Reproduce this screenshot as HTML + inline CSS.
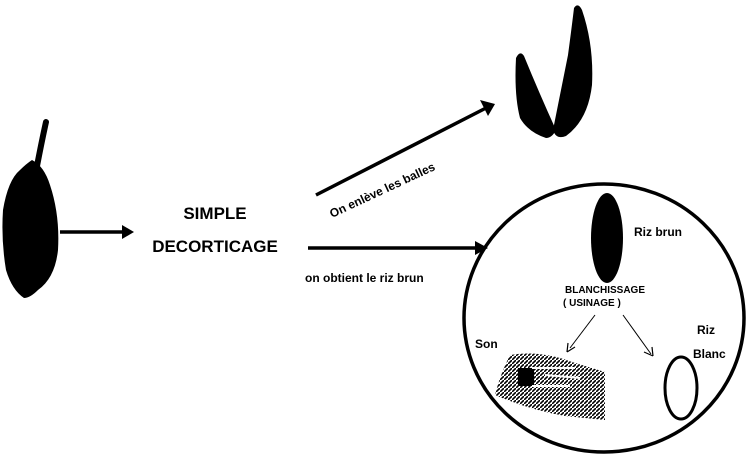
<!DOCTYPE html>
<html><head><meta charset="utf-8"><style>
html,body{margin:0;padding:0;background:#fff;width:749px;height:459px;overflow:hidden}
svg text{font-family:"Liberation Sans",sans-serif;font-weight:bold;fill:#000}
</style></head><body>
<svg width="749" height="459" viewBox="0 0 749 459" xmlns="http://www.w3.org/2000/svg">
<defs>
<pattern id="h" width="4" height="4" patternUnits="userSpaceOnUse">
<rect width="4" height="4" fill="#fff"/><path d="M0 4L4 0" stroke="#000" stroke-width="1.6"/>
</pattern>
</defs>
<!-- seed -->
<path d="M46 122 Q42 140 37 166" stroke="#000" stroke-width="6" fill="none" stroke-linecap="round"/>
<path d="M32 160 Q44 166 50 185 Q60 215 58 250 Q55 278 38 290 Q30 298 24 298 Q12 290 6 270 Q1 240 3 210 Q8 180 20 170 Q26 164 32 160Z" fill="#000"/>
<!-- arrow 1 -->
<line x1="60" y1="232" x2="126" y2="232" stroke="#000" stroke-width="3.5"/>
<path d="M122 225 L134 232 L122 239Z" fill="#000"/>
<text x="215" y="219" font-size="17" text-anchor="middle">SIMPLE</text>
<text x="215" y="252" font-size="17" text-anchor="middle">DECORTICAGE</text>
<!-- diagonal arrow -->
<line x1="316" y1="195" x2="486" y2="108" stroke="#000" stroke-width="3.5"/>
<path d="M480 100 L495 104 L488 116Z" fill="#000"/>
<text transform="translate(332,218) rotate(-25)" font-size="12">On enlève les balles</text>
<!-- husks -->
<path d="M516 58 Q520 50 524 56 Q540 95 556 130 Q552 138 546 138 Q528 132 520 118 Q514 95 516 58Z" fill="#000"/>
<path d="M574 8 Q578 2 582 10 Q594 45 592 85 Q588 120 566 136 Q556 140 553 130 Q560 95 568 55 Q572 25 574 8Z" fill="#000"/>
<!-- arrow 3 -->
<line x1="308" y1="248" x2="478" y2="248" stroke="#000" stroke-width="3.5"/>
<path d="M475 241 L488 248 L475 255Z" fill="#000"/>
<text x="305" y="282" font-size="12">on obtient le riz brun</text>
<!-- circle -->
<ellipse cx="604" cy="318" rx="140" ry="134" fill="none" stroke="#000" stroke-width="3.5"/>
<ellipse cx="607" cy="238" rx="16" ry="45" fill="#000"/>
<text x="634" y="236" font-size="12">Riz brun</text>
<text x="565" y="293" font-size="10">BLANCHISSAGE</text>
<text x="563" y="306" font-size="10">( USINAGE )</text>
<line x1="595" y1="315" x2="570" y2="348" stroke="#000" stroke-width="1"/>
<path d="M567 352 L568 343 M567 352 L575 347" stroke="#000" stroke-width="1.2" fill="none"/>
<line x1="623" y1="315" x2="651" y2="354" stroke="#000" stroke-width="1"/>
<path d="M653 356 L644 352 M653 356 L652 347" stroke="#000" stroke-width="1.2" fill="none"/>
<text x="475" y="348" font-size="12">Son</text>
<path d="M510 355 Q540 350 572 362 L605 372 L605 420 L565 416 Q530 410 495 395 Q500 375 510 355Z" fill="url(#h)"/>
<rect x="518" y="368" width="16" height="18" fill="#000"/>
<path d="M532 368 L575 368 M532 386 L570 386 M545 375 L580 378" stroke="#fff" stroke-width="2"/>
<text x="697" y="334" font-size="12">Riz</text>
<text x="693" y="358" font-size="12">Blanc</text>
<ellipse cx="681" cy="388" rx="16" ry="31" fill="none" stroke="#000" stroke-width="3"/>
</svg>
</body></html>
